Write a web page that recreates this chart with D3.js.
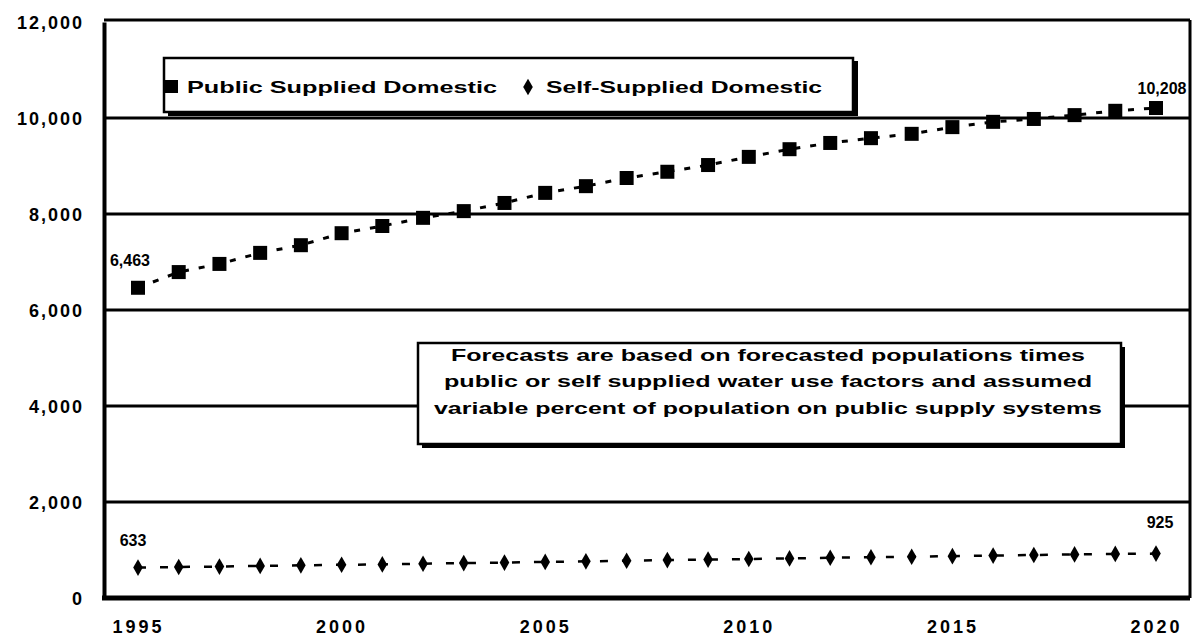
<!DOCTYPE html>
<html>
<head>
<meta charset="utf-8">
<script src="https://cdn.jsdelivr.net/npm/d3@7"></script>
<style>
  html, body { margin: 0; padding: 0; background: #fff; }
  svg { display: block; }
  text { font-family: "Liberation Sans", Arial, sans-serif; font-weight: bold; fill: #000; }
</style>
</head>
<body>
<svg id="chart" width="1193" height="644"></svg>
<script>
// ---- data ----
const years = [1995,1996,1997,1998,1999,2000,2001,2002,2003,2004,2005,2006,2007,2008,2009,2010,2011,2012,2013,2014,2015,2016,2017,2018,2019,2020];
const publicSupplied = [6463,6790,6960,7190,7350,7600,7750,7920,8060,8230,8440,8580,8750,8880,9020,9190,9350,9480,9580,9670,9810,9920,9980,10060,10150,10208];
const selfSupplied = [633,646,655,668,680,692,700,714,728,738,752,764,776,790,800,812,825,838,850,860,872,884,896,908,918,925];
const yTicks = [0,2000,4000,6000,8000,10000,12000];
const xTicks = [1995,2000,2005,2010,2015,2020];
const legendLabels = ["Public Supplied Domestic", "Self-Supplied Domestic"];
const noteLines = [
  "Forecasts are based on forecasted populations times",
  "public or self supplied water use factors and assumed",
  "variable percent of population on public supply systems"
];

const svg = d3.select("#chart");
const mLeft = 104, mRight = 1190, mTop = 20, mBottom = 598;

const x = d3.scaleLinear().domain([1995, 2020]).range([138, 1156]);
const y = d3.scaleLinear().domain([0, 12000]).range([mBottom, 22]);

// gridlines
svg.append("g").selectAll("line")
  .data(yTicks.filter(d => d > 0 && d < 12000))
  .join("line")
  .attr("x1", mLeft).attr("x2", mRight)
  .attr("y1", d => y(d)).attr("y2", d => y(d))
  .attr("stroke", "#000").attr("stroke-width", 3);

// frame
svg.append("line").attr("x1", mLeft).attr("x2", mRight).attr("y1", mTop).attr("y2", mTop)
  .attr("stroke", "#000").attr("stroke-width", 3);
svg.append("line").attr("x1", mRight).attr("x2", mRight).attr("y1", mTop).attr("y2", mBottom)
  .attr("stroke", "#000").attr("stroke-width", 3);

// y axis
const yAxis = d3.axisLeft(y).tickValues(yTicks).tickSize(0).tickPadding(20)
  .tickFormat(d3.format(","));
const gy = svg.append("g").attr("transform", `translate(${mLeft},0)`).call(yAxis);
gy.select(".domain").attr("stroke", "#000").attr("stroke-width", 4);
gy.selectAll("text").style("font-size", "18px").style("letter-spacing", "2px").attr("dy", "0.35em");

// x axis
const xAxis = d3.axisBottom(x).tickValues(xTicks).tickSize(0).tickPadding(22)
  .tickFormat(d3.format("d"));
const gx = svg.append("g").attr("transform", `translate(0,${mBottom})`).call(xAxis);
gx.select(".domain").remove();
gx.selectAll("text").style("font-size", "18px").style("letter-spacing", "3px");
svg.append("line").attr("x1", mLeft - 2).attr("x2", mRight).attr("y1", mBottom).attr("y2", mBottom)
  .attr("stroke", "#000").attr("stroke-width", 5);

// public series
svg.append("path").datum(years.map((yr, i) => [yr, publicSupplied[i]]))
  .attr("fill", "none").attr("stroke", "#000").attr("stroke-width", 3)
  .attr("stroke-dasharray", "6,10")
  .attr("d", d3.line().x(d => x(d[0])).y(d => y(d[1])));
svg.append("g").selectAll("rect")
  .data(years.map((yr, i) => [yr, publicSupplied[i]]))
  .join("rect")
  .attr("x", d => x(d[0]) - 7).attr("y", d => y(d[1]) - 7)
  .attr("width", 14).attr("height", 14).attr("fill", "#000");

// self series
svg.append("path").datum(years.map((yr, i) => [yr, selfSupplied[i]]))
  .attr("fill", "none").attr("stroke", "#000").attr("stroke-width", 2.5)
  .attr("stroke-dasharray", "8,14")
  .attr("d", d3.line().x(d => x(d[0])).y(d => y(d[1])));
const diamond = d3.symbol().type(d3.symbolDiamond).size(80);
svg.append("g").selectAll("path")
  .data(years.map((yr, i) => [yr, selfSupplied[i]]))
  .join("path")
  .attr("transform", d => `translate(${x(d[0])},${y(d[1])})`)
  .attr("d", diamond).attr("fill", "#000");

// data labels
const fmt = d3.format(",");
const endLabels = [
  {v: publicSupplied[0], yr: years[0], dx: -8, dy: -27},
  {v: publicSupplied[publicSupplied.length - 1], yr: years[years.length - 1], dx: 6, dy: -20},
  {v: selfSupplied[0], yr: years[0], dx: -5, dy: -27},
  {v: selfSupplied[selfSupplied.length - 1], yr: years[years.length - 1], dx: 4, dy: -31}
];
svg.append("g").selectAll("text").data(endLabels).join("text")
  .attr("x", d => x(d.yr) + d.dx).attr("y", d => y(d.v) + d.dy)
  .attr("text-anchor", "middle").attr("dy", "0.35em")
  .style("font-size", "16px").text(d => fmt(d.v));

// legend box
const lg = svg.append("g");
lg.append("rect").attr("x", 168).attr("y", 61).attr("width", 690).attr("height", 55).attr("fill", "#000");
lg.append("rect").attr("x", 164).attr("y", 58).attr("width", 689).attr("height", 54)
  .attr("fill", "#fff").attr("stroke", "#000").attr("stroke-width", 2.5);
lg.append("rect").attr("x", 165).attr("y", 80).attr("width", 13).attr("height", 13).attr("fill", "#000");
lg.append("text").attr("x", 187).attr("y", 87).attr("dy", "0.35em").style("font-size", "17px")
  .attr("textLength", 310).attr("lengthAdjust", "spacingAndGlyphs").text(legendLabels[0]);
lg.append("path").attr("transform", "translate(528,87)").attr("d", diamond).attr("fill", "#000");
lg.append("text").attr("x", 546).attr("y", 87).attr("dy", "0.35em").style("font-size", "17px")
  .attr("textLength", 276).attr("lengthAdjust", "spacingAndGlyphs").text(legendLabels[1]);

// note box
const nb = svg.append("g");
nb.append("rect").attr("x", 422).attr("y", 347).attr("width", 703).attr("height", 101).attr("fill", "#000");
nb.append("rect").attr("x", 418).attr("y", 343).attr("width", 703).attr("height", 101)
  .attr("fill", "#fff").attr("stroke", "#000").attr("stroke-width", 2.5);
const noteWidths = [634, 648, 668];
nb.selectAll("text").data(noteLines).join("text")
  .attr("x", 768).attr("y", (d, i) => 355 + i * 26.5).attr("dy", "0.35em")
  .attr("text-anchor", "middle").style("font-size", "17px")
  .attr("textLength", (d, i) => noteWidths[i]).attr("lengthAdjust", "spacingAndGlyphs")
  .text(d => d);
</script>
</body>
</html>
